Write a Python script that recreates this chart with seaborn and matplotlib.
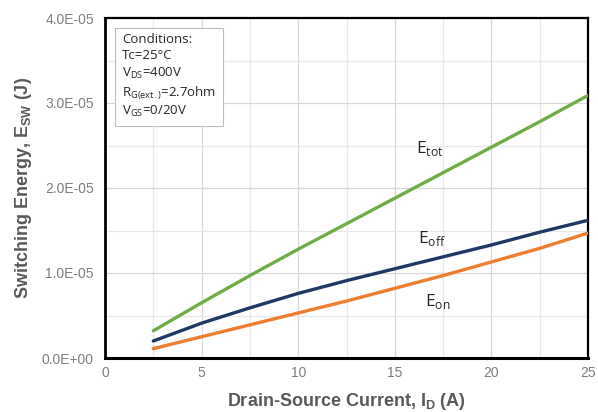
import matplotlib
matplotlib.use("Agg")
import matplotlib.pyplot as plt
import seaborn as sns
import pandas as pd
from matplotlib.ticker import MultipleLocator, FuncFormatter

current = [2.5, 5, 7.5, 10, 12.5, 15, 17.5, 20, 22.5, 25]
e_tot = [3.2e-6, 6.5e-6, 9.7e-6, 12.8e-6, 15.8e-6, 18.8e-6, 21.8e-6, 24.8e-6, 27.8e-6, 30.9e-6]
e_off = [2.0e-6, 4.1e-6, 5.9e-6, 7.6e-6, 9.1e-6, 10.5e-6, 11.9e-6, 13.3e-6, 14.8e-6, 16.2e-6]
e_on = [1.1e-6, 2.5e-6, 3.9e-6, 5.3e-6, 6.7e-6, 8.2e-6, 9.7e-6, 11.3e-6, 12.9e-6, 14.7e-6]
series_names = ["Etot", "Eoff", "Eon"]
colors = {"Etot": "#70ad47", "Eoff": "#1f3864", "Eon": "#ed7d31"}

df = pd.concat([
    pd.DataFrame({"I": current, "E": e_tot, "s": "Etot"}),
    pd.DataFrame({"I": current, "E": e_off, "s": "Eoff"}),
    pd.DataFrame({"I": current, "E": e_on, "s": "Eon"}),
])

sns.set_theme(style="white")
plt.rcParams["font.family"] = ["Liberation Sans", "DejaVu Sans"]

fig = plt.figure(figsize=(5.98, 4.12), dpi=100)
ax = fig.add_axes([105/598, 1-358/412, (588-105)/598, (358-18)/412])

sns.lineplot(data=df, x="I", y="E", hue="s", palette=colors, hue_order=series_names,
             linewidth=2.4, legend=False, ax=ax, zorder=3)

ax.set_xlim(0, 25)
ax.set_ylim(0, 4e-5)
ax.xaxis.set_major_locator(MultipleLocator(5))
ax.xaxis.set_minor_locator(MultipleLocator(2.5))
ax.yaxis.set_major_locator(MultipleLocator(1e-5))
ax.yaxis.set_minor_locator(MultipleLocator(5e-6))
ax.yaxis.set_major_formatter(FuncFormatter(lambda v, p: "%.1E" % v))
ax.grid(True, which="major", color="#d9d9d9", linewidth=0.9)
ax.grid(True, which="minor", color="#e8e8e8", linewidth=0.9)
ax.set_axisbelow(True)
for sp in ax.spines.values():
    sp.set_color("black")
    sp.set_linewidth(1.6)
ax.spines["bottom"].set_linewidth(2.2)
ax.spines["left"].set_linewidth(2.0)
ax.tick_params(axis="both", which="both", length=0, labelsize=10, labelcolor="#7f7f7f", pad=6)
ax.tick_params(axis="y", pad=8)

ax.set_xlabel("Drain-Source Current, I$_\\mathregular{D}$ (A)", fontsize=13, fontweight="bold",
              color="#595959", labelpad=8)
ax.set_ylabel("Switching Energy, E$_\\mathregular{SW}$ (J)", fontsize=13, fontweight="bold",
              color="#595959", labelpad=6)

lab_font = ["Open Sans", "DejaVu Sans"]
ax.text(16.8, 2.47e-5, "E$_\\mathregular{tot}$", fontsize=12.5, family=lab_font, ha="center", va="center")
ax.text(16.9, 1.41e-5, "E$_\\mathregular{off}$", fontsize=12.5, family=lab_font, ha="center", va="center")
ax.text(17.2, 0.66e-5, "E$_\\mathregular{on}$", fontsize=12.5, family=lab_font, ha="center", va="center")

cond = ("Conditions:\nTc=25\u00b0C\nV$_\\mathregular{DS}$=400V\n"
        "R$_\\mathregular{G(ext.)}$=2.7ohm\nV$_\\mathregular{GS}$=0/20V")
ax.text(0.035, 0.955, cond, transform=ax.transAxes, fontsize=9.5, family=lab_font,
        ha="left", va="top", linespacing=1.3,
        bbox=dict(boxstyle="square,pad=0.5", facecolor="white", edgecolor="#bfbfbf", linewidth=0.8))

fig.savefig("out.png", dpi=100)
